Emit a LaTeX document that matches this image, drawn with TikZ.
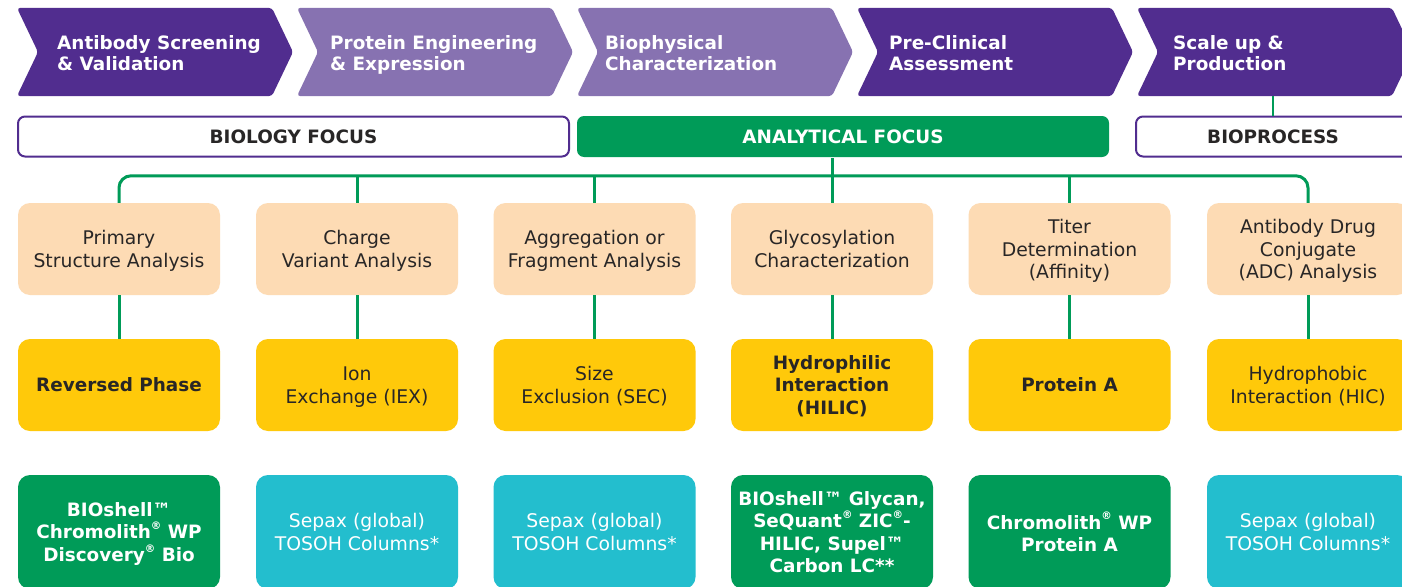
\documentclass[tikz,border=0pt]{standalone}
\usepackage{fontspec}
\setmainfont{DejaVu Sans}
\definecolor{cdeep}{RGB}{81,45,143}
\definecolor{clight}{RGB}{135,114,177}
\definecolor{cgreen}{RGB}{0,155,88}
\definecolor{cpeach}{RGB}{253,219,180}
\definecolor{cgold}{RGB}{255,201,10}
\definecolor{cteal}{RGB}{35,190,206}
\definecolor{cink}{RGB}{40,38,38}
\newcommand\reg{\raisebox{0.5em}{\fontsize{10.5}{10.5}\selectfont ®}}

\begin{document}
\begin{tikzpicture}[x=1pt,y=-1pt,
  chev/.style={font=\fontsize{18.4}{21}\selectfont\bfseries,text=white,align=left,inner sep=0pt},
  focus/.style={font=\fontsize{18.4}{22}\selectfont\bfseries,text=cink,minimum height=40pt,rounded corners=7pt,line width=2pt,inner sep=0pt},
  cell/.style={rounded corners=12pt,minimum width=202pt,minimum height=92pt,inner sep=0pt,align=center,
    text depth=0pt,font=\fontsize{18.8}{22.5}\selectfont,text=cink},
  techbold/.style={font=\fontsize{18.4}{22.5}\selectfont\bfseries},
  techplain/.style={},
  prodg/.style={fill=cgreen,text=white,font=\fontsize{18.4}{22.5}\selectfont\bfseries},
  prodt/.style={fill=cteal,text=white},
  link/.style={cgreen,line width=3pt},
  thinlink/.style={cgreen,line width=1.5pt}]
 \useasboundingbox (0,0) rectangle (1402,586);
 \fill[white] (0,0) rectangle (1402,586);
 % ---- process chevrons ----
 \foreach \i/\x/\tx/\c/\lab in {%
   1/17/57/cdeep/{Antibody Screening\\\& Validation}, 2/297/330/clight/{Protein Engineering\\\& Expression},
   3/577/605/clight/{Biophysical\\Characterization}, 4/857/889/cdeep/{Pre-Clinical\\Assessment},
   5/1137/1173/cdeep/{Scale up \&\\Production}} {
   \fill[\c,rounded corners=3pt] (\x,8) -- (\x+255,8) -- (\x+276,52) -- (\x+255,96) -- (\x,96) -- (\x+21,52) -- cycle;
   \node[chev,anchor=west,text depth=0pt] (chev\i) at (\tx,53) {\lab};
   \coordinate (chev\i-b) at (\x+136,96);}
 % ---- focus bars ----
 \node[focus,draw=cdeep,fill=white,minimum width=551pt] (bio) at (293.5,136.5) {BIOLOGY FOCUS};
 \node[focus,fill=cgreen,text=white,minimum width=532pt,minimum height=41pt] (ana) at (843,136.5) {ANALYTICAL FOCUS};
 \node[focus,draw=cdeep,fill=white,minimum width=274pt] (proc) at (1273,136.5) {BIOPROCESS};
 \draw[thinlink] (chev5-b) -- (proc.north);
 % ---- analysis / technique / product columns ----
 \foreach \i/\x/\lana/\ltech/\lprod/\stech/\sprod in {%
   1/119/{Primary\\Structure Analysis}/{Reversed Phase}/{BIOshell™\\Chromolith\reg{} WP\\Discovery\reg{} Bio}/techbold/prodg,
   2/357/{Charge\\Variant Analysis}/{Ion\\Exchange (IEX)}/{Sepax (global)\\TOSOH Columns*}/techplain/prodt,
   3/594.5/{Aggregation or\\Fragment Analysis}/{Size\\Exclusion (SEC)}/{Sepax (global)\\TOSOH Columns*}/techplain/prodt,
   4/832/{Glycosylation\\Characterization}/{Hydrophilic\\Interaction\\(HILIC)}/{BIOshell™ Glycan,\\SeQuant\reg{} ZIC\reg-\\HILIC, Supel™\\Carbon LC**}/techbold/prodg,
   5/1069.5/{Titer\\Determination\\(Affinity)}/{Protein A}/{Chromolith\reg{} WP\\Protein A}/techbold/prodg,
   6/1308/{Antibody Drug\\Conjugate\\(ADC) Analysis}/{Hydrophobic\\Interaction (HIC)}/{Sepax (global)\\TOSOH Columns*}/techplain/prodt} {
   \node[cell,fill=cpeach] (an\i) at (\x,249) {\lana};
   \node[cell,fill=cgold,\stech] (te\i) at (\x,385) {\ltech};
   \node[cell,\sprod,minimum height=114pt] (pr\i) at (\x,532) {\lprod};
   \draw[link] (an\i) -- (te\i);}
 % ---- tree from analytical focus ----
 \draw[link,rounded corners=12pt] (an1.north) -- ++(0,-27) -| (an6.north);
 \foreach \i in {2,3,5}\draw[link] (an\i.north) -- ++(0,-27);
 \draw[link] (ana.south -| an4.north) -- (an4.north);
\end{tikzpicture}
\end{document}
